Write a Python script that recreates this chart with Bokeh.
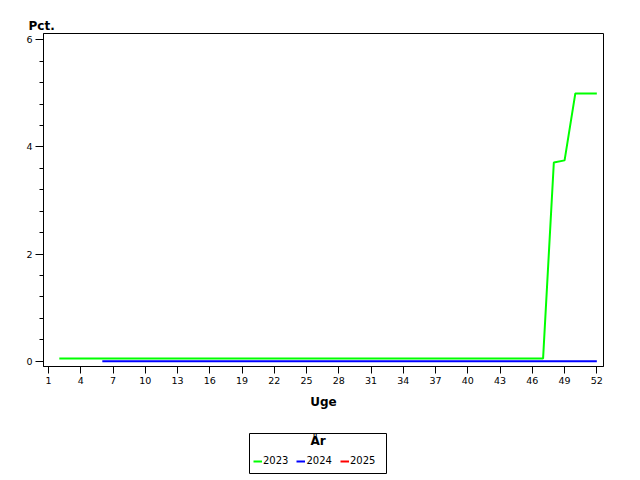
from bokeh.plotting import figure
from bokeh.layouts import column
from bokeh.models import (Range1d, FixedTicker, SingleIntervalTicker, Legend,
                          LegendItem, Label, Title)
from bokeh.embed import file_html
from bokeh.resources import INLINE

# ---- data ----
x_ticks = [1, 4, 7, 10, 13, 16, 19, 22, 25, 28, 31, 34, 37, 40, 43, 46, 49, 52]

weeks_2023 = [2, 3, 4, 5, 6, 7, 8, 9, 10, 11, 12, 13, 14, 15, 16, 17, 18, 19,
              20, 21, 22, 23, 24, 25, 26, 27, 28, 29, 30, 31, 32, 33, 34, 35,
              36, 37, 38, 39, 40, 41, 42, 43, 44, 45, 46, 47, 48, 49, 50, 51, 52]
pct_2023 = [0.05, 0.05, 0.05, 0.05, 0.05, 0.05, 0.05, 0.05, 0.05, 0.05,
            0.05, 0.05, 0.05, 0.05, 0.05, 0.05, 0.05, 0.05, 0.05, 0.05,
            0.05, 0.05, 0.05, 0.05, 0.05, 0.05, 0.05, 0.05, 0.05, 0.05,
            0.05, 0.05, 0.05, 0.05, 0.05, 0.05, 0.05, 0.05, 0.05, 0.05,
            0.05, 0.05, 0.05, 0.05, 0.05, 0.05,
            3.71, 3.75, 5.0, 5.0, 5.0]

weeks_2024 = [6, 7, 8, 9, 10, 11, 12, 13, 14, 15, 16, 17, 18, 19, 20, 21, 22,
              23, 24, 25, 26, 27, 28, 29, 30, 31, 32, 33, 34, 35, 36, 37, 38,
              39, 40, 41, 42, 43, 44, 45, 46, 47, 48, 49, 50, 51, 52]
pct_2024 = [0.0, 0.0, 0.0, 0.0, 0.0, 0.0, 0.0, 0.0, 0.0, 0.0, 0.0, 0.0,
            0.0, 0.0, 0.0, 0.0, 0.0, 0.0, 0.0, 0.0, 0.0, 0.0, 0.0, 0.0,
            0.0, 0.0, 0.0, 0.0, 0.0, 0.0, 0.0, 0.0, 0.0, 0.0, 0.0, 0.0,
            0.0, 0.0, 0.0, 0.0, 0.0, 0.0, 0.0, 0.0, 0.0, 0.0, 0.0]

weeks_2025 = []
pct_2025 = []

years = ["2023", "2024", "2025"]
colors = ["#00ff00", "#0000ff", "#ff0000"]
legend_title = "År"

FONT = "DejaVu Sans"
NAN = float("nan")

# ---------------- main chart ----------------
p = figure(width=640, height=433, output_backend="svg", toolbar_location=None,
           x_range=Range1d(0.53, 52.62), y_range=Range1d(-0.1, 6.12),
           min_border_left=43, min_border_right=37, min_border_top=33,
           min_border_bottom=67)
p.frame_align = False

p.background_fill_color = "white"
p.border_fill_color = "white"
p.outline_line_color = "black"
p.outline_line_width = 1
p.xgrid.grid_line_color = None
p.ygrid.grid_line_color = None

p.title = Title(text="Pct.", align="left", offset=-15, standoff=1,
                text_font=FONT, text_font_size="12px", text_font_style="bold",
                text_color="black")

xa = p.xaxis[0]
xa.ticker = FixedTicker(ticks=x_ticks)
xa.minor_tick_line_color = None
xa.major_tick_out = 7
xa.major_tick_in = 0
xa.major_label_standoff = 3
xa.major_label_text_font = FONT
xa.major_label_text_font_size = "9.5px"
xa.major_label_text_color = "black"
xa.axis_line_color = "black"
xa.major_tick_line_color = "black"
xa.axis_label = "Uge"
xa.axis_label_text_font = FONT
xa.axis_label_text_font_size = "12px"
xa.axis_label_text_font_style = "bold"
xa.axis_label_text_color = "black"
xa.axis_label_standoff = 8

ya = p.yaxis[0]
ya.ticker = SingleIntervalTicker(interval=2, num_minor_ticks=5)
ya.major_tick_out = 8
ya.major_tick_in = 0
ya.minor_tick_out = 4
ya.minor_tick_in = 0
ya.major_label_standoff = 3
ya.major_label_text_font = FONT
ya.major_label_text_font_size = "9.5px"
ya.major_label_text_color = "black"
ya.axis_line_color = "black"
ya.major_tick_line_color = "black"
ya.minor_tick_line_color = "black"

p.line(weeks_2023, pct_2023, line_color=colors[0], line_width=2)
p.line(weeks_2024, pct_2024, line_color=colors[1], line_width=2)
p.line(weeks_2025, pct_2025, line_color=colors[2], line_width=2)

# ---------------- legend box ----------------
lg = figure(width=640, height=47, output_backend="svg", toolbar_location=None,
            x_range=Range1d(0, 1), y_range=Range1d(0, 1),
            x_axis_location=None, y_axis_location=None,
            min_border_left=249, min_border_right=254, min_border_top=0,
            min_border_bottom=7)
lg.frame_align = False
lg.background_fill_color = "white"
lg.border_fill_color = "white"
lg.outline_line_color = "black"
lg.outline_line_width = 1
lg.xgrid.grid_line_color = None
lg.ygrid.grid_line_color = None

items = []
for yr, col in zip(years, colors):
    # legend swatch proxies (no visible mark)
    r = lg.line([NAN], [NAN], line_color=col, line_width=2)
    items.append(LegendItem(label=yr, renderers=[r]))

legend = Legend(
    items=items, orientation="horizontal", location=(4, 7),
    border_line_color=None, background_fill_alpha=0.0,
    label_text_font=FONT, label_text_font_size="10px", label_text_color="black",
    glyph_width=9, glyph_height=10, label_height=10, label_standoff=1,
    spacing=8, padding=0, margin=0,
)
lg.add_layout(legend)

lg.add_layout(Label(x=0.5, y=0.81, text=legend_title, text_align="center",
                    text_baseline="middle", text_font=FONT,
                    text_font_size="12px", text_font_style="bold",
                    text_color="black"))

layout = column(p, lg, spacing=0)
open("out.html", "w").write(file_html(layout, INLINE))
